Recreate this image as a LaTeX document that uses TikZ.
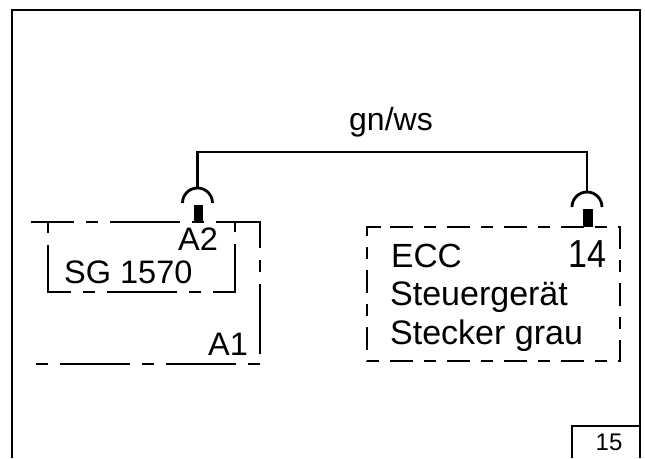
\documentclass[tikz,border=0pt]{standalone}
\usetikzlibrary{calc}
\usepackage{fontspec}
\setmainfont{Liberation Sans}
\tikzset{
  wire/.style={line width=2.8pt,black},
  frameline/.style={line width=2.8pt,black},
  socket/.style={line width=2.8pt,black},
  pin/.style={fill=black,draw=none},
  dashlong/.style={line width=2pt,black,dash pattern=on 70pt off 12pt on 12pt off 12pt},
  dashbox/.style={line width=2pt,black,dash pattern=on 23pt off 11pt on 12pt off 11pt},
  label/.style={anchor=base west,inner sep=0pt,font=\fontsize{32.5}{36}\selectfont},
  biglabel/.style={label,font=\fontsize{34}{38}\selectfont},
}
\begin{document}
\begin{tikzpicture}[x=1pt,y=-1pt]
\useasboundingbox (0,0) rectangle (645,458);
\fill[white] (0,0) rectangle (645,458);
\coordinate (frameA) at (12,458);
\coordinate (frameB) at (12,10);
\coordinate (frameC) at (640,10);
\coordinate (frameD) at (640,458);
\coordinate (boxA) at (572,458);
\coordinate (boxB) at (572,426);
\coordinate (boxC) at (640,426);
\coordinate (sockL) at (197.5,203);
\coordinate (sockR) at (587,207);
\coordinate (wireL) at ($(sockL)+(0,-15)$);
\coordinate (wireR) at ($(sockR)+(0,-15)$);
\coordinate (wireM) at (197.5,152);
\draw[frameline] (frameA) -- (frameB) -- (frameC) -- (frameD);
\draw[frameline] (boxA) -- (boxB) -- (boxC);
\node[anchor=base,inner sep=0pt,font=\fontsize{24}{28}\selectfont] (sheet) at (609,450) {15};

% wire and sockets
\draw[wire] (wireL) -- (wireM) -| (wireR);
\draw[socket] (sockL) ++(-15,0) arc (180:360:15 and 15);
\draw[socket] (sockR) ++(-15,0) arc (180:360:15 and 15);
\fill[pin] (193.5,205) rectangle (203,222);
\fill[pin] (583,209) rectangle (593,227);
\node[label,anchor=base,font=\fontsize{32}{36}\selectfont] (color) at (391,130) {gn/ws};

% left box
\draw[dashlong,dash phase=27pt] (31,222) -- (260,222) -- (260,354);
\draw[dashlong,dash phase=82pt] (260,364) -- (36,364);
\draw[dashlong,dash phase=83pt] (48,222) -- (48,292) -- (235,292) -- (235,222);
\node[label] (sg) at (64,283) {SG 1570};
\node[label] (atwo) at (178,250) {A2};
\node[label] (aone) at (208,355) {A1};

% right box
\draw[dashbox] (390,227) -- (619.5,227) -- (619.5,361) -- (367,361) -- (367,227) -- (390,227);
\node[biglabel,font=\fontsize{33.5}{38}\selectfont] (ecc) at (391,267) {ECC};
\node[biglabel] (ctrl) at (390,305) {Steuergerät};
\node[biglabel] (plug) at (390,344) {Stecker grau};
\node[biglabel] (fourteen) at (568,267) {\scalebox{1}[1.15]{14}};
\end{tikzpicture}
\end{document}
